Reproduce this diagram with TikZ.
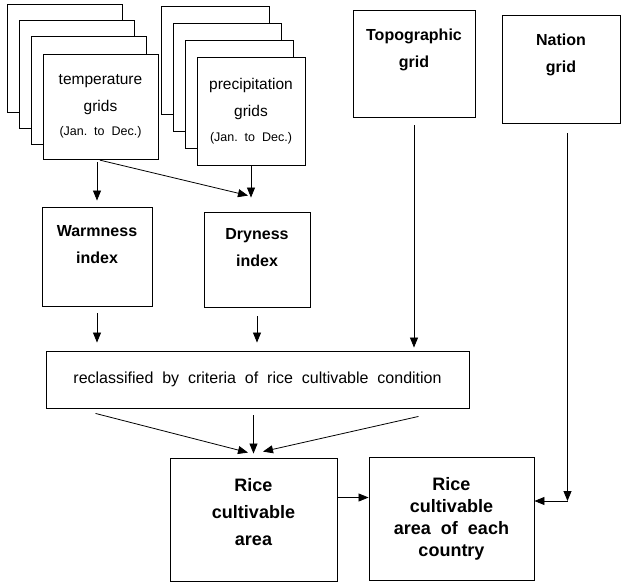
\documentclass[tikz,border=0pt]{standalone}
\usepackage{fontspec}
\setmainfont{Liberation Sans}
\usetikzlibrary{arrows.meta,calc}

\begin{document}
\begin{tikzpicture}[
    x=1pt, y=-1pt,
    >={Triangle[length=10pt,width=8pt]},
    sheet/.style={
      rectangle, draw=black, fill=white, line width=0.9pt,
      inner sep=0pt, align=center,
      font=\fontsize{15.5}{27}\selectfont,
    },
    idxbox/.style={
      rectangle, draw=black, fill=white, line width=0.9pt,
      inner sep=0pt, align=center,
      font=\fontsize{16}{27}\selectfont\bfseries,
    },
    areabox/.style={
      rectangle, draw=black, line width=0.9pt,
      inner sep=0pt, align=center,
      font=\fontsize{18}{22}\selectfont\bfseries,
    },
    arr/.style={->, draw=black, line width=0.8pt},
  ]

  \useasboundingbox (0,0) rectangle (622,584);

  % ---- monthly grid stacks (back sheets) ----
  \foreach \k in {3,2,1} {
    \node[sheet, minimum width=115pt, minimum height=108pt] (tsheet\k) at ($(100.5,107)+(-12*\k,-16.3*\k)$) {};
    \node[sheet, minimum width=108pt, minimum height=108pt] (psheet\k) at ($(251,111)+(-11.7*\k,-16.7*\k)$) {};
  }

  % ---- front sheets ----
  \node[sheet, minimum width=115pt, minimum height=105pt] (temp) at (100.5,106.5)
    {temperature\\grids\\[-3pt]{\fontsize{12.5}{15}\selectfont(Jan.\ \ to\ \ Dec.)}};
  \node[sheet, minimum width=108pt, minimum height=108pt] (prec) at (251,111)
    {precipitation\\grids\\[-2pt]{\fontsize{12.5}{15}\selectfont(Jan.\ \ to\ \ Dec.)}};

  % ---- other inputs ----
  \node[idxbox, minimum width=122pt, minimum height=107pt, text depth=31pt] (topo) at (414,63.5) {Topographic\\grid};
  \node[idxbox, minimum width=118pt, minimum height=108pt, text depth=31pt] (nation) at (561,69) {Nation\\grid};

  % ---- indices ----
  \node[idxbox, minimum width=110pt, minimum height=99pt, text depth=25pt] (warm) at (97,256.5) {Warmness\\index};
  \node[idxbox, minimum width=106pt, minimum height=95pt, text depth=24pt] (dry) at (257,259.5) {Dryness\\index};

  \draw[arr, shorten <=3pt, shorten >=6pt] (warm.north |- temp.south) -- (warm.north);
  \draw[arr, shorten <=3pt] (warm.north |- temp.south) -- ([xshift=-9pt,yshift=16pt]dry.north);
  \draw[arr, shorten >=14pt] (prec.south) -- (prec.south |- dry.north);

  % ---- reclassification ----
  \node[sheet, minimum width=423pt, minimum height=57pt, font=\fontsize{16}{20}\selectfont] (reclass) at (257.5,379.5)
    {reclassified\ \ by\ \ criteria\ \ of\ \ rice\ \ cultivable\ \ condition};

  \draw[arr, shorten <=7pt, shorten >=8pt] (warm.south) -- (warm.south |- reclass.north);
  \draw[arr, shorten <=9pt, shorten >=8pt] (dry.south) -- (dry.south |- reclass.north);
  \draw[arr, shorten <=8pt, shorten >=3pt] (topo.south) -- (topo.south |- reclass.north);

  % ---- results ----
  \node[areabox, minimum width=167pt, minimum height=123pt, text depth=16pt] (area) at (253.5,519.5) {Rice\\[5pt]cultivable\\[5pt]area};
  \node[areabox, minimum width=165pt, minimum height=123pt] (country) at (451.5,518.5) {Rice\\cultivable\\area\ \ of\ \ each\\country};

  \draw[arr, shorten <=7pt, shorten >=4pt] (area.north |- reclass.south) -- (area.north);
  \draw[arr] ($(reclass.south west)+(50,5)$) -- ($(area.north)+(-5.5,-5)$);
  \draw[arr] ($(reclass.south east)+(-51,8)$) -- ($(area.north)+(9.5,-6)$);

  \draw[arr] ([yshift=22pt]area.east) -- ([yshift=22pt]area.east -| country.west);

  \coordinate (natturn) at (567.5,501);
  \draw[arr, shorten <=10pt] (nation.south -| natturn) -- (natturn);
  \draw[arr] (natturn) -- (natturn -| country.east);

\end{tikzpicture}
\end{document}
